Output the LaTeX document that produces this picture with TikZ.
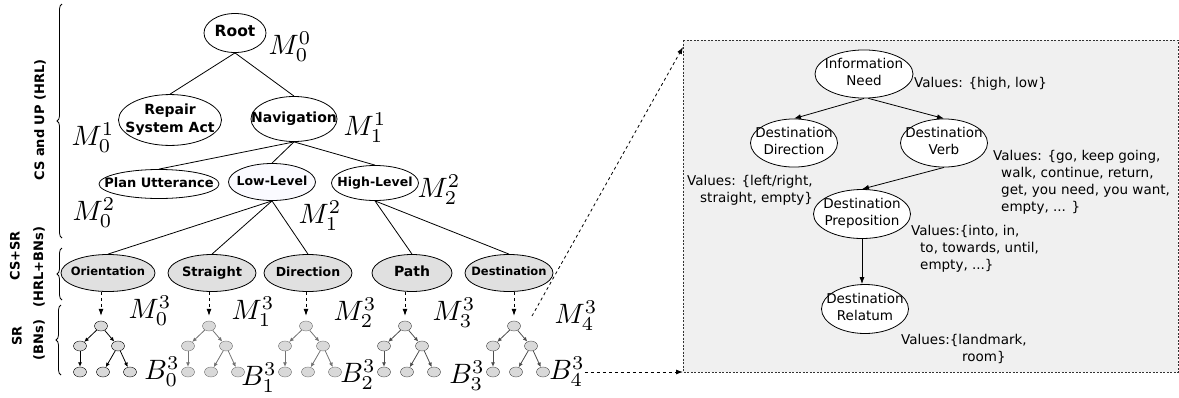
\documentclass[tikz,border=0pt]{standalone}
\usepackage{fontspec}
\setmainfont{DejaVu Sans}
\usepackage{graphicx}
\usepackage{tikz}
\usetikzlibrary{positioning,arrows.meta,shapes.geometric,decorations.pathreplacing}

% text of a node, not counted in its size
\newcommand{\lbl}[1]{\makebox[0pt]{\begin{tabular}{@{}c@{}}#1\end{tabular}}}
% large model labels
\newcommand{\mlbl}[1]{\scalebox{2.8}{$#1$}}

\begin{document}
\begin{tikzpicture}[
    x=1pt, y=-1pt,
    every node/.style={inner sep=0pt},
    hrl/.style={draw, ellipse, line width=0.8pt},
    csnode/.style={hrl, fill=black!12, minimum height=37},
    big/.style={font=\fontsize{14}{18}\selectfont\bfseries},
    small/.style={font=\fontsize{11.5}{14}\selectfont\bfseries},
    mid/.style={font=\fontsize{12.5}{15}\selectfont\bfseries},
    var/.style={draw, ellipse, fill=white, line width=0.8pt, font=\fontsize{13.5}{17}\selectfont},
    vals/.style={anchor=west, align=left, font=\fontsize{13.5}{17}\selectfont},
    side/.style={rotate=90, font=\fontsize{13}{15}\selectfont\bfseries},
    mlab/.style={},
    bn/.style={draw, ellipse, fill=black!15, minimum width=13, minimum height=10},
    brace/.style={decorate, decoration={brace, amplitude=5pt}, line width=0.8pt},
    panel/.style={draw=black!80, fill=black!6, line width=0.8pt, dash pattern=on 2pt off 1.5pt},
    >={Latex[length=7pt,width=5pt]}
]
    \useasboundingbox (0,0) rectangle (1179,397);

    % left labels
    \node[side] (tcsup) at (40,120) {CS and UP (HRL)};
    \node[side] (tcssr) at (15,256) {CS+SR};
    \node[side] (thrl) at (39,267) {(HRL+BNs)};
    \node[side] (tsr) at (17,336) {SR};
    \node[side] (tbns) at (39,340) {(BNs)};
    \draw[brace] (62,238) -- (62,4);
    \draw[brace] (62,300) -- (62,248);
    \draw[brace] (61,375) -- (61,305);

    % hierarchy
    \node[hrl, font=\fontsize{15.5}{18}\selectfont\bfseries, minimum width=62, minimum height=39] (root) at (235,33) {\lbl{Root}};
    \node[hrl, big, minimum width=103, minimum height=46] (repair) at (170,120) {\lbl{Repair\\System Act}};
    \node[hrl, big, minimum width=86, minimum height=45] (nav) at (294,119) {\lbl{Navigation}};
    \node[hrl, font=\fontsize{13}{15}\selectfont\bfseries, minimum width=120, minimum height=29] (plan) at (159,184) {\lbl{Plan Utterance}};
    \node[hrl, mid, fill=blue!2, minimum width=87, minimum height=37] (low) at (272,182) {\lbl{Low-Level}};
    \node[hrl, mid, minimum width=87, minimum height=35] (high) at (375,183) {\lbl{High-Level}};

    \node[csnode, small, minimum width=94] (ori) at (108,273) {\lbl{Orientation}};
    \node[csnode, font=\fontsize{13}{15}\selectfont\bfseries, minimum width=88] (str) at (212,273) {\lbl{Straight}};
    \node[csnode, mid, minimum width=88] (dir) at (308,273) {\lbl{Direction}};
    \node[csnode, big, minimum width=80] (path) at (412,273) {\lbl{Path}};
    \node[csnode, small, minimum width=88] (dest) at (509,273) {\lbl{Destination}};

    \draw[line width=0.8pt] (root.south) -- (repair.north);
    \draw[line width=0.8pt] (root.south) -- (nav.north);
    \draw[line width=0.8pt] (nav.south) -- (plan.north);
    \draw[line width=0.8pt] (nav.south) -- (low.north);
    \draw[line width=0.8pt] (nav.south) -- (high.north);
    \draw[line width=0.8pt] (low.south) -- (ori.north);
    \draw[line width=0.8pt] (low.south) -- (str.north);
    \draw[line width=0.8pt] (low.south) -- (dir.north);
    \draw[line width=0.8pt] (high.south) -- (path.north);
    \draw[line width=0.8pt] (high.south) -- (dest.north);

    \node[mlab] (m00) at (290,47) {\mlbl{M^0_0}};
    \node[mlab] (m10) at (93,138) {\mlbl{M^1_0}};
    \node[mlab] (m11) at (365,128) {\mlbl{M^1_1}};
    \node[mlab] (m20) at (94,213) {\mlbl{M^2_0}};
    \node[mlab] (m21) at (320,216) {\mlbl{M^2_1}};
    \node[mlab] (m22) at (439,190) {\mlbl{M^2_2}};

    % small BNs
    \foreach \i/\x/\c/\n in {0/101/black/ori, 1/209/black!55/str, 2/306/black!55/dir, 3/405/black!70/path, 4/514/black!70/dest} {
        \node[bn, draw=\c] (bn\i-r) at (\x,326) {};
        \node[bn, draw=\c] (bn\i-a) at (\x-21,346) {};
        \node[bn, draw=\c] (bn\i-b) at (\x+17,346) {};
        \node[bn, draw=\c] (bn\i-c) at (\x-21,372) {};
        \node[bn, draw=\c] (bn\i-d) at (\x+2,372) {};
        \node[bn, draw=\c] (bn\i-e) at (\x+29,372) {};
        \draw[->, >={Latex[length=4.5pt,width=4pt]}, draw=\c, line width=0.8pt] (bn\i-r) -- (bn\i-a);
        \draw[->, >={Latex[length=4.5pt,width=4pt]}, draw=\c, line width=0.8pt] (bn\i-r) -- (bn\i-b);
        \draw[->, >={Latex[length=4.5pt,width=4pt]}, draw=\c, line width=0.8pt] (bn\i-a) -- (bn\i-c);
        \draw[->, >={Latex[length=4.5pt,width=4pt]}, draw=\c, line width=0.8pt] (bn\i-b) -- (bn\i-d);
        \draw[->, >={Latex[length=4.5pt,width=4pt]}, draw=\c, line width=0.8pt] (bn\i-b) -- (bn\i-e);
        \draw[->, dashed, line width=0.8pt, shorten >=5pt] (bn\i-r |- \n.south) -- (bn\i-r);
    }

    \node[mlab] (m30) at (150,311) {\mlbl{M^3_0}};
    \node[mlab] (m31) at (253,312) {\mlbl{M^3_1}};
    \node[mlab] (m32) at (355,313) {\mlbl{M^3_2}};
    \node[mlab] (m33) at (454,313) {\mlbl{M^3_3}};
    \node[mlab] (m34) at (576,316) {\mlbl{M^3_4}};
    \node[mlab] (b30) at (162,372) {\mlbl{B^3_0}};
    \node[mlab] (b31) at (259,378) {\mlbl{B^3_1}};
    \node[mlab] (b32) at (358,375) {\mlbl{B^3_2}};
    \node[mlab] (b33) at (467,376) {\mlbl{B^3_3}};
    \node[mlab] (b34) at (567,372) {\mlbl{B^3_4}};

    % zoomed BN of Destination
    \coordinate (pnw) at (683,40);
    \coordinate (pse) at (1178,372);
    \draw[panel] (pnw) rectangle (pse);
    \coordinate (pin) at (683,47);
    \coordinate (zoomfrom) at (532,316);
    \draw[->, dashed, line width=0.8pt] (zoomfrom) -- (pin);
    \draw[->, dashed, line width=0.8pt] (b34.east) -- (b34.east -| pnw);

    \node[var, minimum width=98, minimum height=48] (need) at (864,74) {\lbl{Information\\Need}};
    \node[var, minimum width=87, minimum height=48] (ddir) at (794,143) {\lbl{Destination\\Direction}};
    \node[var, minimum width=87, minimum height=48] (dverb) at (944,143) {\lbl{Destination\\Verb}};
    \node[var, minimum width=97, minimum height=49] (dprep) at (862,214) {\lbl{Destination\\Preposition}};
    \node[var, minimum width=87, minimum height=49] (drel) at (865,309) {\lbl{Destination\\Relatum}};

    \draw[->, line width=0.8pt] (need.south) -- (ddir.north);
    \draw[->, line width=0.8pt] (need.-80) -- (dverb.north);
    \draw[->, line width=0.8pt] (dverb.south) -- (dprep.north);
    \draw[->, line width=0.8pt] (dprep.south) -- (dprep.south |- drel.north);

    \node[vals] (vneed) at (914,84) {Values: \{high, low\}};
    \node[vals] (vverb) at (993,182) {Values: \{go, keep going,\\\hspace*{8pt}walk, continue, return,\\\hspace*{8pt}get, you need, you want,\\\hspace*{8pt}empty, ... \}};
    \node[vals] (vdir) at (687,190) {Values: \{left/right,\\\hspace*{13pt}straight, empty\}};
    \node[vals] (vprep) at (911,249) {Values:\{into, in,\\\hspace*{9pt}to, towards, until,\\\hspace*{9pt}empty, ...\}};
    \node[vals] (vrel) at (901,349) {Values:\{landmark,\\\hspace*{61pt}room\}};
\end{tikzpicture}
\end{document}
